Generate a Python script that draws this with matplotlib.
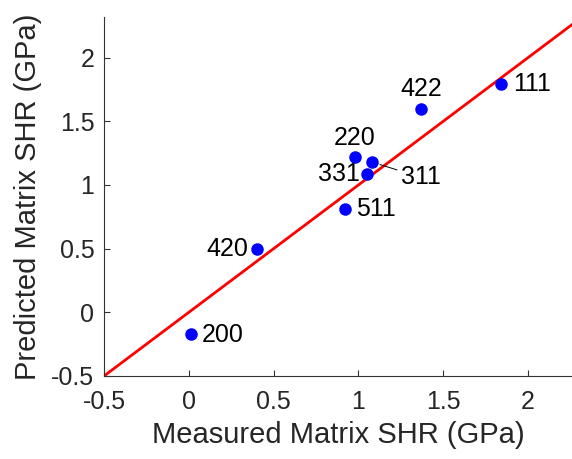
import numpy as np
import matplotlib
matplotlib.use("Agg")
import matplotlib.pyplot as plt

plt.rcParams['font.family'] = ['Liberation Sans', 'DejaVu Sans']

# measured vs predicted matrix SHR (GPa)
labels = ['200', '420', '511', '331', '220', '311', '422', '111']
measured = [0.01, 0.40, 0.92, 1.05, 0.98, 1.08, 1.37, 1.84]
predicted = [-0.17, 0.50, 0.81, 1.09, 1.22, 1.18, 1.60, 1.79]

# label offsets in points (dx, dy, ha)
offsets = {
    '200': (8, -1, 'left'),
    '420': (-6, 0, 'right'),
    '511': (8, 0, 'left'),
    '331': (-5, 0, 'right'),
    '220': (0, 14, 'center'),
    '311': (21, -11, 'left'),
    '422': (0, 14, 'center'),
    '111': (9, 0, 'left'),
}

fig = plt.figure(figsize=(5.72, 4.59), dpi=100)
ax = fig.add_axes([0.182, 0.181, 0.818, 0.782])

ax.plot([-0.5, 2.5], [-0.5, 2.5], color='red', lw=2, zorder=2)
ax.plot(measured, predicted, 'o', color='blue', ms=8, zorder=3)

for lab, x, y in zip(labels, measured, predicted):
    dx, dy, ha = offsets[lab]
    if lab == '311':
        ax.annotate(lab, (x, y), xytext=(dx, dy), textcoords='offset points',
                    ha=ha, va='center', fontsize=18,
                    arrowprops=dict(arrowstyle='-', color='black', lw=0.7, shrinkA=1, shrinkB=6))
    else:
        ax.annotate(lab, (x, y), xytext=(dx, dy), textcoords='offset points',
                    ha=ha, va='center', fontsize=18)

ax.set_xlim(-0.5, 2.26)
ax.set_ylim(-0.5, 2.32)
ax.set_xticks([-0.5, 0, 0.5, 1, 1.5, 2])
ax.set_xticklabels(['-0.5', '0', '0.5', '1', '1.5', '2'])
ax.set_yticks([-0.5, 0, 0.5, 1, 1.5, 2])
ax.set_yticklabels(['-0.5', '0', '0.5', '1', '1.5', '2'])
ax.tick_params(labelsize=18, direction='in', length=4, color='#333333', labelcolor='#262626')
ax.tick_params(axis='x', pad=10)
ax.tick_params(axis='y', pad=7)
ax.spines['top'].set_visible(False)
ax.spines['right'].set_visible(False)
for s in ['left', 'bottom']:
    ax.spines[s].set_color('#333333')
ax.set_xlabel('Measured Matrix SHR (GPa)', fontsize=21, color='#262626', labelpad=5)
ax.set_ylabel('Predicted Matrix SHR (GPa)', fontsize=21, color='#262626', labelpad=7)

fig.savefig('out.png', dpi=100)
